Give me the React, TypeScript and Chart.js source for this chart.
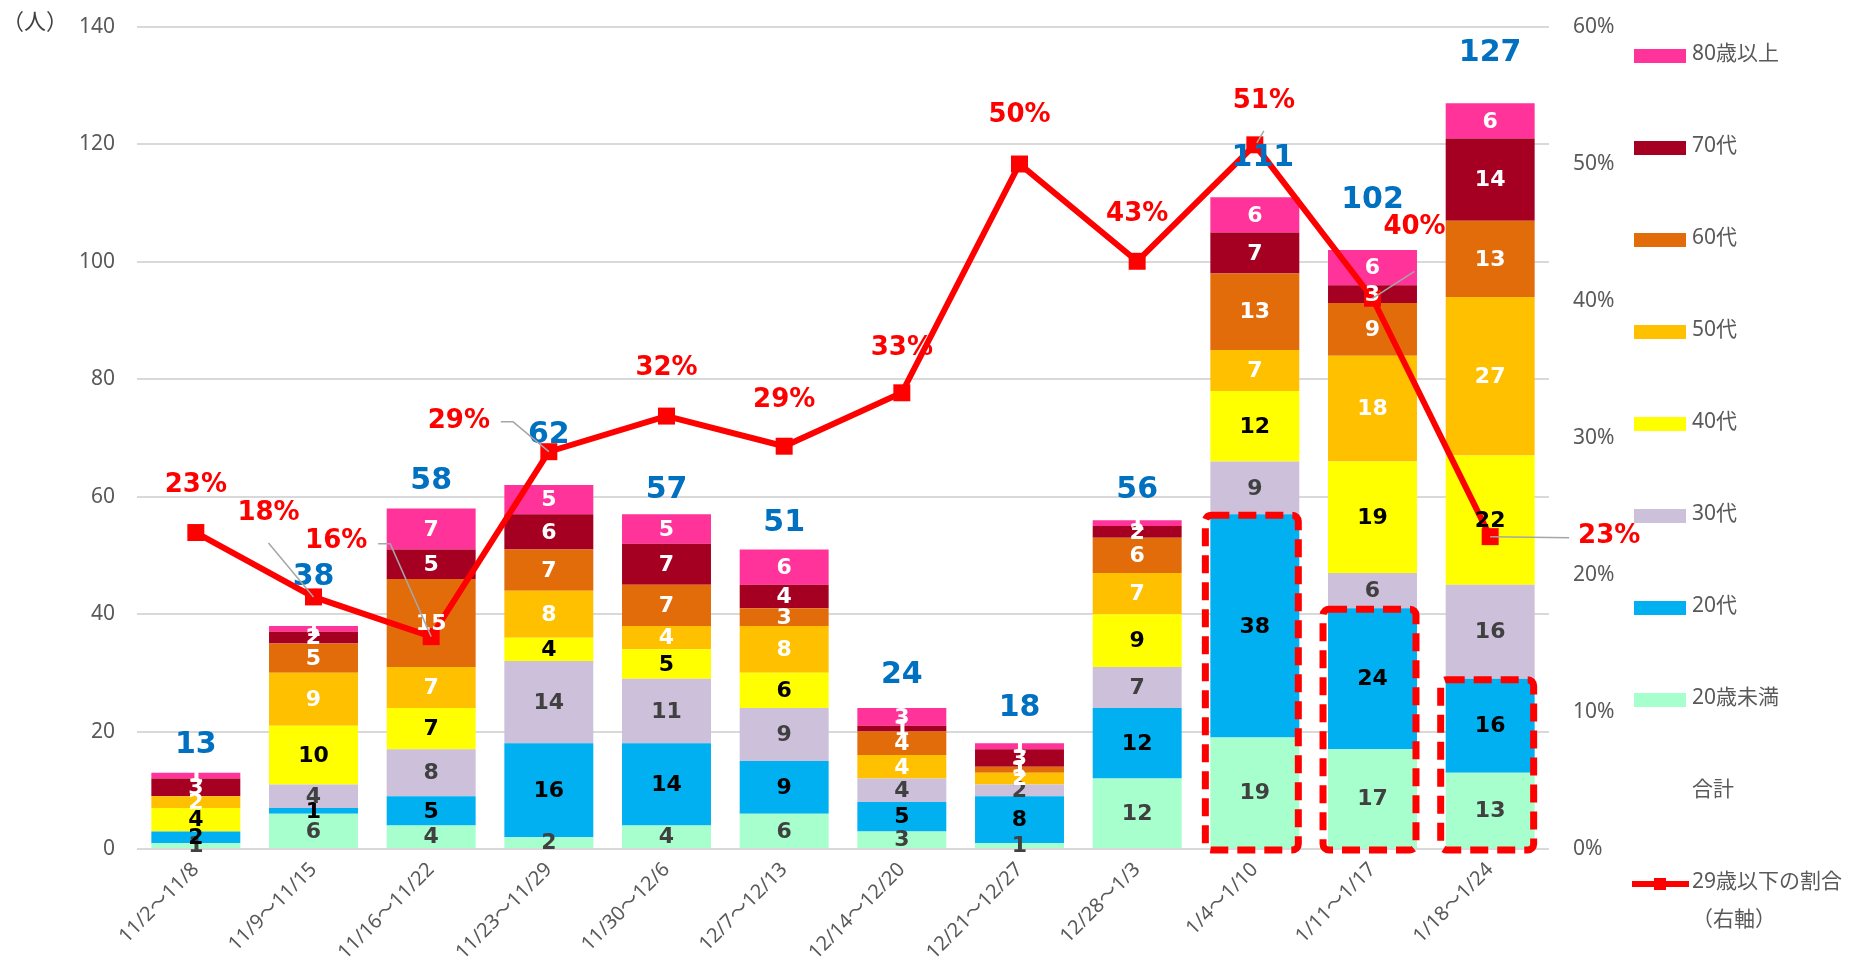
import React, { useEffect, useRef } from "react";
import { Chart, registerables } from "chart.js";

Chart.register(...registerables);

// ---------- data ----------
const weeks = [
  "11/2～11/8", "11/9～11/15", "11/16～11/22", "11/23～11/29", "11/30～12/6", "12/7～12/13",
  "12/14～12/20", "12/21～12/27", "12/28～1/3", "1/4～1/10", "1/11～1/17", "1/18～1/24",
];
const under20 = [1, 6, 4, 2, 4, 6, 3, 1, 12, 19, 17, 13];
const age20s = [2, 1, 5, 16, 14, 9, 5, 8, 12, 38, 24, 16];
const age30s = [0, 4, 8, 14, 11, 9, 4, 2, 7, 9, 6, 16];
const age40s = [4, 10, 7, 4, 5, 6, 0, 0, 9, 12, 19, 22];
const age50s = [2, 9, 7, 8, 4, 8, 4, 2, 7, 7, 18, 27];
const age60s = [0, 5, 15, 7, 7, 3, 4, 1, 6, 13, 9, 13];
const age70s = [3, 2, 5, 6, 7, 4, 1, 3, 2, 7, 3, 14];
const over80 = [1, 1, 7, 5, 5, 6, 3, 1, 1, 6, 6, 6];
const totals = [13, 38, 58, 62, 57, 51, 24, 18, 56, 111, 102, 127];
const under29Share = [0.231, 0.184, 0.155, 0.29, 0.316, 0.294, 0.333, 0.5, 0.429, 0.514, 0.402, 0.228];
const seriesNames = ["20歳未満", "20代", "30代", "40代", "50代", "60代", "70代", "80歳以上"];
const seriesData = [under20, age20s, age30s, age40s, age50s, age60s, age70s, over80];
const lineName = "29歳以下の割合";
const totalName = "合計";
const leftTicks = [0, 20, 40, 60, 80, 100, 120, 140];
const rightTicks = [0, 0.1, 0.2, 0.3, 0.4, 0.5, 0.6];
const highlightedWeeks = [9, 10, 11];

// ---------- styles ----------
const seriesColors = ["#A6FFCC", "#00B0F0", "#CCC0DA", "#FFFF00", "#FFC000", "#E26B0A", "#A50021", "#FF3399"];
const seriesTextColors = ["#404040", "#000000", "#404040", "#000000", "#FFFFFF", "#FFFFFF", "#FFFFFF", "#FFFFFF"];
const totalLift = [27, 49, 27, 50, 24, 26, 33, 35, 30, 39, 50, 50];
const totalDx = [0, 0, 0, 0, 0, 0, 0, 0, 0, 8, 0, 0];
const pctDx = [0, -45, -95, -90, 0, 0, 0, 0, 0, 9, 42, 119];
const pctDy = [-47, -84, -95, -30, -48, -46, -45, -49, -47, -44, -71, 0];
const pctLeaders: Record<number, number[][]> = {
  1: [[-45, -54], [0, 0]],
  2: [[-53, -93], [-41, -93], [0, 0]],
  3: [[-48, -30], [-36, -30], [0, 0]],
  9: [[9, -14], [2, -2]],
  10: [[42, -27], [0, 0]],
  11: [[79, 1], [0, 0]],
};

const SANS = "'Noto Sans', 'Noto Sans CJK JP', sans-serif";
const BOLD = "'DejaVu Sans', 'Noto Sans CJK JP', sans-serif";
const CLEAR = "rgba(0,0,0,0)";

function roundRectPath(ctx: CanvasRenderingContext2D, x: number, y: number, w: number, h: number, r: number) {
  ctx.beginPath();
  ctx.moveTo(x + r, y);
  ctx.lineTo(x + w - r, y);
  ctx.arcTo(x + w, y, x + w, y + r, r);
  ctx.lineTo(x + w, y + h - r);
  ctx.arcTo(x + w, y + h, x + w - r, y + h, r);
  ctx.lineTo(x + r, y + h);
  ctx.arcTo(x, y + h, x, y + h - r, r);
  ctx.lineTo(x, y + r);
  ctx.arcTo(x, y, x + r, y, r);
  ctx.closePath();
}

const overlay = {
  id: "overlay",
  afterDatasetsDraw(chart: any) {
    const ctx = chart.ctx;
    const yS = chart.scales.y;
    ctx.save();

    // dashed highlight boxes around the under-29 part
    const m1 = chart.getDatasetMeta(1);
    const zeroY = yS.getPixelForValue(0);
    ctx.strokeStyle = "#FF0000";
    ctx.lineWidth = 7;
    ctx.setLineDash([18, 9]);
    ctx.lineJoin = "round";
    highlightedWeeks.forEach((j) => {
      const el: any = m1.data[j];
      const half = el.width / 2;
      const l = el.x - half - 5;
      const r = el.x + half - 1;
      const t = el.y + 1;
      const b = zeroY + 1;
      roundRectPath(ctx, l, t, r - l, b - t, 6);
      ctx.stroke();
    });
    ctx.setLineDash([]);

    // segment labels
    ctx.textAlign = "center";
    ctx.textBaseline = "middle";
    ctx.font = `bold 22px ${BOLD}`;
    seriesData.forEach((arr, i) => {
      const meta = chart.getDatasetMeta(i);
      arr.forEach((v, j) => {
        if (!v) return;
        const el: any = meta.data[j];
        ctx.fillStyle = seriesTextColors[i];
        ctx.fillText(String(v), el.x, (el.y + el.base) / 2 + 1);
      });
    });

    // totals
    const m0 = chart.getDatasetMeta(0);
    ctx.font = `bold 30px ${BOLD}`;
    ctx.fillStyle = "#0070C0";
    totals.forEach((t, j) => {
      const el: any = m0.data[j];
      ctx.fillText(String(t), el.x + totalDx[j], yS.getPixelForValue(t) - totalLift[j]);
    });

    // percentage labels + leader lines
    const ml = chart.getDatasetMeta(8);
    ctx.strokeStyle = "#A6A6A6";
    ctx.lineWidth = 1.5;
    Object.keys(pctLeaders).forEach((k) => {
      const j = Number(k);
      const el: any = ml.data[j];
      const pts = pctLeaders[j];
      ctx.beginPath();
      pts.forEach((p, n) => {
        if (n === 0) ctx.moveTo(el.x + p[0], el.y + p[1]);
        else ctx.lineTo(el.x + p[0], el.y + p[1]);
      });
      ctx.stroke();
    });
    ctx.font = `bold 26px ${BOLD}`;
    ctx.fillStyle = "#FF0000";
    under29Share.forEach((v, j) => {
      const el: any = ml.data[j];
      ctx.fillText(Math.round(v * 100) + "%", el.x + pctDx[j], el.y + pctDy[j]);
    });
    ctx.restore();
  },
  afterDraw(chart: any) {
    const ctx = chart.ctx;
    ctx.save();
    // unit label
    ctx.font = `22px 'Noto Sans CJK JP', sans-serif`;
    ctx.fillStyle = "#404040";
    ctx.textAlign = "center";
    ctx.textBaseline = "middle";
    ctx.fillText("（人）", 27, 13);

    // legend
    const sx = 1626;
    const tx = 1684;
    const step = 92;
    let y = 48;
    ctx.textAlign = "left";
    ctx.font = `21px ${SANS}`;
    for (let i = seriesNames.length - 1; i >= 0; i--) {
      ctx.fillStyle = seriesColors[i];
      ctx.fillRect(sx, y - 7, 52, 14);
      ctx.fillStyle = "#595959";
      ctx.fillText(seriesNames[i], tx, y - 2);
      y += step;
    }
    ctx.fillStyle = "#595959";
    ctx.fillText(totalName, tx, y - 2);
    y += step;
    ctx.strokeStyle = "#FF0000";
    ctx.lineWidth = 6;
    ctx.beginPath();
    ctx.moveTo(1624, y);
    ctx.lineTo(1681, y);
    ctx.stroke();
    ctx.fillStyle = "#FF0000";
    ctx.fillRect(1652 - 6, y - 6, 12, 12);
    ctx.fillStyle = "#595959";
    ctx.fillText(lineName, tx, y - 2);
    ctx.fillText("（右軸）", tx, y + 36);
    ctx.restore();
  },
};

export default function App() {
  const ref = useRef<HTMLCanvasElement>(null);
  useEffect(() => {
    const canvas = ref.current as HTMLCanvasElement;
    const datasets: any[] = seriesNames.map((name, i) => ({
      type: "bar",
      label: name,
      data: seriesData[i],
      backgroundColor: seriesColors[i],
      borderWidth: 0,
      stack: "ages",
      yAxisID: "y",
      barPercentage: 0.756,
      categoryPercentage: 1,
      order: 1,
    }));
    datasets.push({
      type: "line",
      label: lineName,
      data: under29Share,
      yAxisID: "y1",
      borderColor: "#FF0000",
      backgroundColor: "#FF0000",
      borderWidth: 6,
      pointStyle: "rect",
      pointRadius: 12,
      pointBorderWidth: 0,
      pointBackgroundColor: "#FF0000",
      tension: 0,
      order: 0,
      clip: false,
    });
    const chart = new Chart(canvas, {
      type: "bar",
      data: { labels: weeks, datasets },
      options: {
        responsive: false,
        animation: false,
        devicePixelRatio: 1,
        layout: { padding: { top: 19, left: 0, right: 0, bottom: 0 } },
        plugins: { legend: { display: false }, tooltip: { enabled: false } },
        scales: {
          x: {
            stacked: true,
            grid: { display: false },
            border: { display: false },
            ticks: {
              autoSkip: false,
              maxRotation: 45,
              minRotation: 45,
              color: "#595959",
              font: { size: 20, family: SANS },
              padding: 1,
            },
            afterFit: (s: any) => {
              s.height = 108;
            },
          },
          y: {
            stacked: true,
            position: "left",
            min: 0,
            max: 140,
            afterBuildTicks: (s: any) => {
              s.ticks = leftTicks.map((v) => ({ value: v }));
            },
            ticks: { color: "#595959", font: { size: 21, family: SANS }, padding: 0 },
            grid: { color: "#D9D9D9", lineWidth: 2, drawTicks: true, tickLength: 22, tickColor: CLEAR },
            border: { display: false },
            afterFit: (s: any) => {
              s.width = 129;
            },
          },
          y1: {
            position: "right",
            min: 0,
            max: 0.6,
            afterBuildTicks: (s: any) => {
              s.ticks = rightTicks.map((v) => ({ value: v }));
            },
            ticks: {
              color: "#595959",
              font: { size: 21, family: SANS },
              padding: 0,
              callback: (v: any) => Math.round(Number(v) * 100) + "%",
            },
            grid: { drawOnChartArea: false, drawTicks: true, tickLength: 24, tickColor: CLEAR },
            border: { display: false },
            afterFit: (s: any) => {
              s.width = 304;
            },
          },
        },
      } as any,
      plugins: [overlay],
    } as any);
    return () => chart.destroy();
  }, []);
  return (
    <div style={{ width: 1845, height: 949 }}>
      <canvas ref={ref} width={1845} height={949} style={{ display: "block" }} />
    </div>
  );
}
